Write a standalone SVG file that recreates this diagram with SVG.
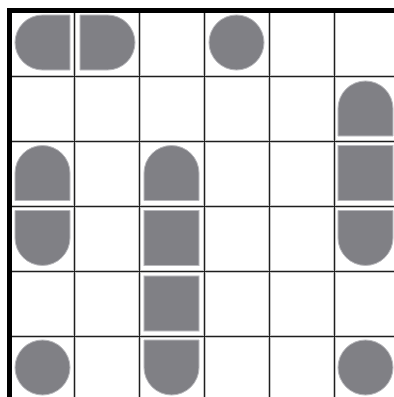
<svg xmlns="http://www.w3.org/2000/svg" width="394" height="397" viewBox="0 0 394 397">
<style>
.halo{stroke:#c4c4c4;stroke-width:3;fill:none}
.line{stroke:#1e1e1e;stroke-width:1;fill:none}
.border{stroke:#000;stroke-width:5;fill:none}
.piece{fill:#808085;stroke:#b8b8bc;stroke-width:1}
</style>
<defs>
<path id="lr" d="M27.5,0 H55 V55 H27.5 A27.5,27.5 0 0 1 27.5,0 Z"/>
<path id="rr" d="M0,0 H27.5 A27.5,27.5 0 0 1 27.5,55 H0 Z"/>
<path id="tr" d="M0,55 V27.5 A27.5,27.5 0 0 1 55,27.5 V55 Z"/>
<path id="br" d="M0,0 H55 V27.5 A27.5,27.5 0 0 1 0,27.5 Z"/>
<rect id="sq" x="0" y="0" width="55" height="55"/>
<circle id="ci" cx="27.5" cy="27.5" r="27.5"/>
</defs>
<rect width="394" height="397" fill="#fff"/>
<g id="grid">
<g class="halo">
<path d="M74.5,10 V397 M139.5,10 V397 M204.5,10 V397 M269.5,10 V397 M334.5,10 V397"/>
<path d="M9,76.5 H394 M9,141.5 H394 M9,206.5 H394 M9,271.5 H394 M9,336.5 H394"/>
</g>
<g class="line">
<path d="M74.5,10 V397 M139.5,10 V397 M204.5,10 V397 M269.5,10 V397 M334.5,10 V397"/>
<path d="M9,76.5 H394 M9,141.5 H394 M9,206.5 H394 M9,271.5 H394 M9,336.5 H394"/>
</g>
<path class="border" d="M9.5,397 V10.5 H394"/>
</g>
<g id="n-r0c0"><use href="#lr" class="piece" x="15" y="15"/></g>
<g id="n-r0c1"><use href="#rr" class="piece" x="80" y="15"/></g>
<g id="n-r0c3"><use href="#ci" class="piece" x="209" y="15"/></g>
<g id="n-r1c5"><use href="#tr" class="piece" x="338" y="81"/></g>
<g id="n-r2c0"><use href="#tr" class="piece" x="15" y="145.5"/></g>
<g id="n-r2c2"><use href="#tr" class="piece" x="144" y="145.5"/></g>
<g id="n-r2c5"><use href="#sq" class="piece" x="338" y="145.5"/></g>
<g id="n-r3c0"><use href="#br" class="piece" x="15" y="210.5"/></g>
<g id="n-r3c2"><use href="#sq" class="piece" x="144" y="210.5"/></g>
<g id="n-r3c5"><use href="#br" class="piece" x="338" y="210.5"/></g>
<g id="n-r4c2"><use href="#sq" class="piece" x="144" y="276"/></g>
<g id="n-r5c0"><use href="#ci" class="piece" x="15" y="340"/></g>
<g id="n-r5c2"><use href="#br" class="piece" x="144" y="340"/></g>
<g id="n-r5c5"><use href="#ci" class="piece" x="338" y="340"/></g>
</svg>
